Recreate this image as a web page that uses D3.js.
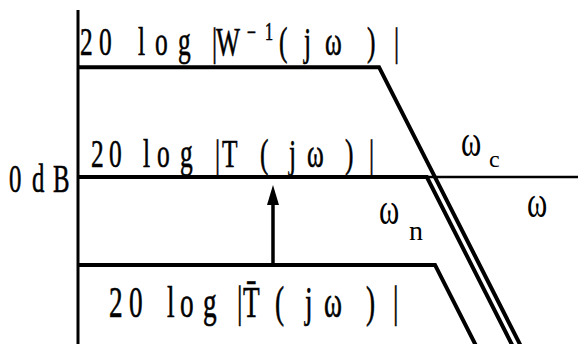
<!DOCTYPE html>
<html>
<head>
<meta charset="utf-8">
<script src="https://cdn.jsdelivr.net/npm/d3@7"></script>
<style>
  html, body { margin: 0; padding: 0; background: #fff; }
  svg { display: block; }
</style>
</head>
<body>
<svg id="chart" width="578" height="344"></svg>
<script>
// Asymptotic gain curves, given as [ω, dB] corner points (−40 dB/dec roll-off)
const omegaDomain = [1e-4, 40];
const dbDomain = [-38, 38];
const curveWinv = [[1e-4, 25], [0.236, 25], [10, -40]];
const curveT    = [[1e-4, 0],  [0.81, 0],  [8.1, -40]];
const curveTbar = [[1e-4, -20], [1.0, -20], [3.16, -40]];
// Upward arrow: lifting |T̄| to |T|
const arrowOmega = 0.0153;
const arrowFromDb = -20;
const arrowToDb = -1.8;

// Label glyphs
const labelWinv = ["2", "0", "l", "o", "g", "|", "W", "−", "1", "(", "j", "ω", ")", "|"];
const labelT    = ["2", "0", "l", "o", "g", "|", "T", "(", "j", "ω", ")", "|"];
const labelTbar = ["2", "0", "l", "o", "g", "|", "T\u0304", "(", "j", "ω", ")", "|"];
const label0dB  = ["0", "d", "B"];
const labelOmega = "ω";
const subC = "c";
const subN = "n";

const FONT = "Liberation Serif";
const width = 578, height = 344;
const svg = d3.select("#chart");

const x = d3.scaleLog().domain(omegaDomain).range([78, 578]);
const y = d3.scaleLinear().domain(dbDomain).range([344, 10]);

const clip = svg.append("defs").append("clipPath").attr("id", "plot");
clip.append("rect").attr("x", 0).attr("y", 0).attr("width", width).attr("height", height);

const line = d3.line().x(d => x(d[0])).y(d => y(d[1]));

// Axes: vertical gain axis and 0 dB frequency axis
svg.append("line")
  .attr("x1", x(omegaDomain[0])).attr("x2", x(omegaDomain[0]))
  .attr("y1", y(dbDomain[1])).attr("y2", y(dbDomain[0]))
  .attr("stroke", "#000").attr("stroke-width", 3);
svg.append("line")
  .attr("x1", x(omegaDomain[0])).attr("x2", x(omegaDomain[1]))
  .attr("y1", y(0)).attr("y2", y(0))
  .attr("stroke", "#000").attr("stroke-width", 2.5);

// Curves
const g = svg.append("g").attr("clip-path", "url(#plot)");
[curveWinv, curveT, curveTbar].forEach(c => {
  g.append("path").attr("d", line(c))
    .attr("fill", "none").attr("stroke", "#000")
    .attr("stroke-width", 4).attr("stroke-linejoin", "miter");
});

// Arrow
const ax = x(arrowOmega);
const tipY = y(arrowToDb);
svg.append("line")
  .attr("x1", ax).attr("x2", ax)
  .attr("y1", y(arrowFromDb)).attr("y2", tipY + 16)
  .attr("stroke", "#000").attr("stroke-width", 3.5);
svg.append("path")
  .attr("d", `M${ax},${tipY} L${ax - 6},${tipY + 20} L${ax + 6},${tipY + 20} Z`)
  .attr("fill", "#000");

// Condensed glyph row: each glyph placed at its own left x
function glyphRow(glyphs, xs, baseline, size, sx, dys, sizes) {
  const t = svg.append("text")
    .attr("transform", `translate(0,${baseline}) scale(${sx},1)`)
    .attr("font-family", FONT)
    .attr("font-size", size)
    .attr("fill", "#000")
    .attr("stroke", "#000")
    .attr("stroke-width", 0.6);
  glyphs.forEach((ch, i) => {
    t.append("tspan")
      .attr("x", xs[i] / sx)
      .attr("y", dys ? dys[i] : 0)
      .attr("font-size", sizes ? sizes[i] : size)
      .text(ch);
  });
}

glyphRow(labelWinv,
  [80, 99, 138, 155, 178, 212, 216, 247, 265, 279, 304, 325, 367, 394],
  55, 41, 0.62,
  [0, 0, 0, 0, 0, 0, 0, -14, -15, 0, 0, 0, 0, 0],
  [41, 41, 41, 41, 41, 41, 41, 26, 26, 41, 41, 41, 41, 41]);

glyphRow(labelT,
  [91, 109, 143, 157, 180, 215, 222, 260, 289, 307, 345, 369],
  167, 41, 0.62);

glyphRow(labelTbar,
  [109, 129, 167, 180, 203, 237, 243, 275, 305, 324, 366, 393],
  317, 44, 0.62);

glyphRow(label0dB, [9, 32, 53], 192, 40, 0.62);

// ω labels
function omegaLabel(x0, base, sub, subX, subBase, subSize) {
  svg.append("text")
    .attr("transform", `translate(${x0},${base}) scale(0.7,1)`)
    .attr("font-family", FONT)
    .attr("font-size", 44).text(labelOmega);
  if (sub) {
    svg.append("text")
      .attr("x", subX).attr("y", subBase)
      .attr("font-family", FONT)
      .attr("font-size", subSize).text(sub);
  }
}
omegaLabel(461, 156, subC, 489, 167, 24);
omegaLabel(379, 224, subN, 409, 240, 28);
omegaLabel(527, 217);
</script>
</body>
</html>
